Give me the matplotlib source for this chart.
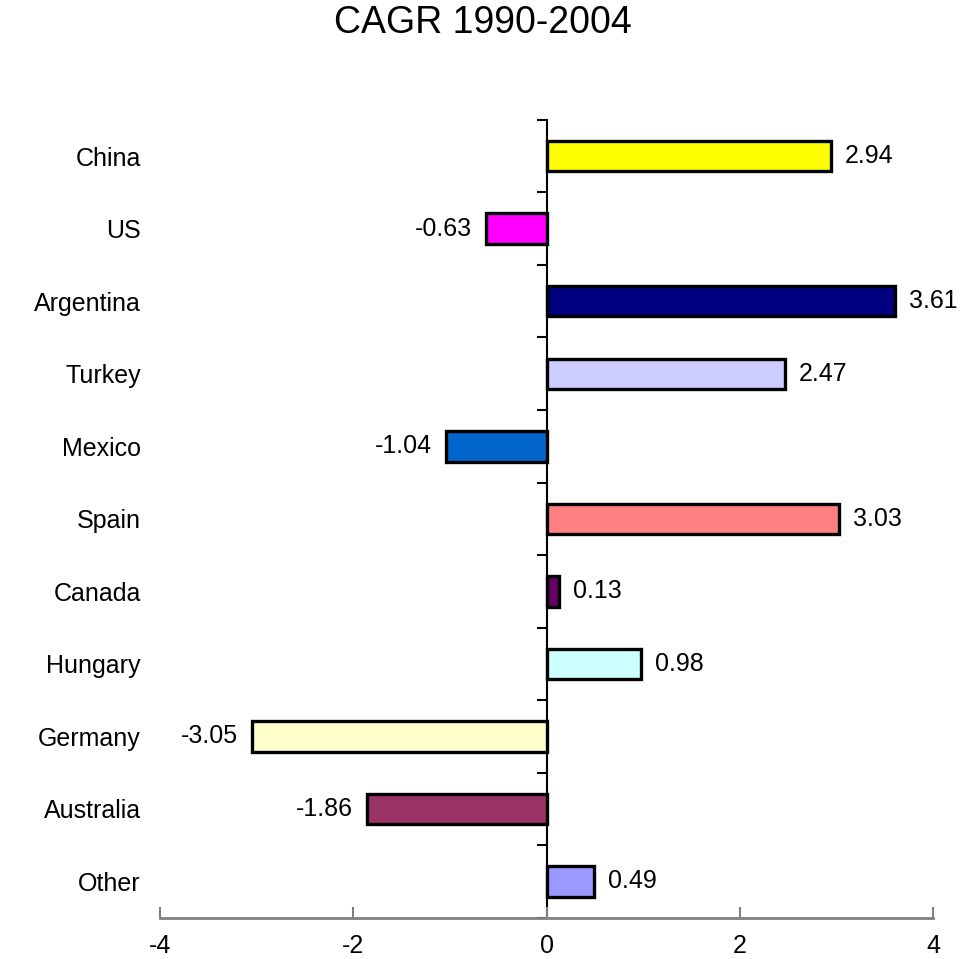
import matplotlib.pyplot as plt
import numpy as np

plt.rcParams['font.family'] = ['Liberation Sans', 'DejaVu Sans']

# --- Data ---
countries = ['China', 'US', 'Argentina', 'Turkey', 'Mexico', 'Spain',
             'Canada', 'Hungary', 'Germany', 'Australia', 'Other']
cagr = [2.94, -0.63, 3.61, 2.47, -1.04, 3.03, 0.13, 0.98, -3.05, -1.86, 0.49]
bar_colors = ['#FFFF00', '#FF00FF', '#000080', '#CCCCFF', '#0066CC', '#FF8080',
              '#660066', '#CCFFFF', '#FFFFCC', '#993366', '#9999FF']
x_ticks = [-4, -2, 0, 2, 4]

fig = plt.figure(figsize=(9.65, 9.59), dpi=100)
ax = fig.add_axes([0.166, 0.043, 0.801, 0.832])

ypos = np.arange(len(countries))
ax.barh(ypos, cagr, height=0.42, color=bar_colors, edgecolor='black', linewidth=2.4, zorder=3)

# --- Axes limits ---
ax.set_xlim(-4, 4)
ax.set_ylim(len(countries) - 0.5, -0.5)

# --- X axis ---
ax.set_xticks(x_ticks)
ax.set_xticklabels([str(t) for t in x_ticks], fontsize=18)
ax.tick_params(axis='x', direction='in', length=8, width=1.5, color='#808080', pad=12)
ax.spines['bottom'].set_color('#808080')
ax.spines['bottom'].set_linewidth(2)
for s in ['top', 'right', 'left']:
    ax.spines[s].set_visible(False)

# --- Category labels ---
ax.set_yticks(ypos)
ax.set_yticklabels(countries, fontsize=18)
ax.tick_params(axis='y', length=0, pad=14)

# --- Zero axis with ticks between categories ---
zero_ax = ax.secondary_yaxis(0.5)
zero_ax.set_alignment('left')
zero_ax.set_yticks(np.arange(len(countries) + 1) - 0.5)
zero_ax.set_yticklabels([])
zero_ax.tick_params(axis='y', direction='out', length=7, width=1.5, color='black')
zero_ax.spines['left'].set_color('black')
zero_ax.spines['left'].set_linewidth(1.5)

# --- Value labels ---
for i, v in enumerate(cagr):
    if v >= 0:
        ax.annotate(f'{v:.2f}', (v, i), xytext=(10, 0), textcoords='offset points',
                    ha='left', va='center', fontsize=18)
    else:
        ax.annotate(f'{v:.2f}', (v, i), xytext=(-10, 0), textcoords='offset points',
                    ha='right', va='center', fontsize=18)

fig.suptitle('CAGR 1990-2004', fontsize=27, y=0.995)

fig.savefig('out.png', dpi=100)
